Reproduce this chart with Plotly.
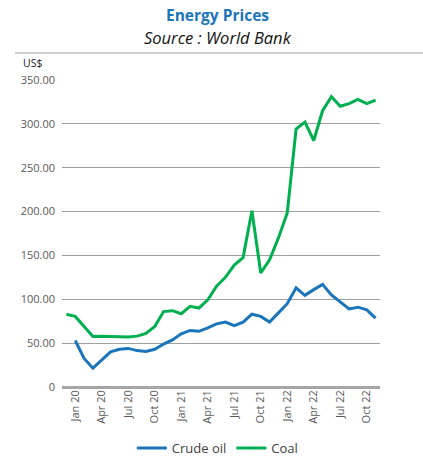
import plotly.graph_objects as go

# Monthly categories, Dec 2019 – Nov 2022
months = ["Dec 19",
          "Jan 20", "Feb 20", "Mar 20", "Apr 20", "May 20", "Jun 20",
          "Jul 20", "Aug 20", "Sep 20", "Oct 20", "Nov 20", "Dec 20",
          "Jan 21", "Feb 21", "Mar 21", "Apr 21", "May 21", "Jun 21",
          "Jul 21", "Aug 21", "Sep 21", "Oct 21", "Nov 21", "Dec 21",
          "Jan 22", "Feb 22", "Mar 22", "Apr 22", "May 22", "Jun 22",
          "Jul 22", "Aug 22", "Sep 22", "Oct 22", "Nov 22"]

# US$ prices (crude oil has no Dec 19 value)
crude_oil = [None,
             53.0, 32.5, 21.5, 31.0, 40.0, 43.0,
             44.0, 41.5, 40.5, 43.0, 49.0, 53.7,
             60.6, 64.5, 63.5, 67.5, 72.0, 74.0,
             70.0, 74.0, 83.0, 80.5, 74.0, 84.5,
             95.0, 113.0, 104.5, 111.0, 117.0, 105.0,
             97.0, 89.0, 91.0, 88.0, 78.5]

coal = [83.0,
        80.5, 69.0, 57.5, 58.0, 57.5, 57.0,
        57.0, 58.0, 61.0, 69.0, 86.0, 87.0,
        83.5, 92.0, 90.0, 99.5, 115.0, 125.0,
        139.0, 147.5, 201.0, 130.0, 145.0, 170.0,
        198.5, 294.0, 302.0, 281.0, 315.0, 331.0,
        320.0, 323.0, 328.0, 323.0, 327.0]

x_ticks = ["Jan 20", "Apr 20", "Jul 20", "Oct 20", "Jan 21", "Apr 21", "Jul 21",
           "Oct 21", "Jan 22", "Apr 22", "Jul 22", "Oct 22"]
y_ticks = [0, 50, 100, 150, 200, 250, 300, 350]
y_tick_text = ["0" if v == 0 else f"{v:.2f}" for v in y_ticks]

BLUE = "#1a75bb"
GREEN = "#00b050"
FONT = "Open Sans"

fig = go.Figure()
fig.add_trace(go.Scatter(x=months, y=crude_oil, name="Crude oil", mode="lines",
                         line=dict(color=BLUE, width=3)))
fig.add_trace(go.Scatter(x=months, y=coal, name="Coal", mode="lines",
                         line=dict(color=GREEN, width=3)))

fig.update_layout(
    width=423, height=460,
    margin=dict(l=62, r=43, t=80, b=73),
    paper_bgcolor="white", plot_bgcolor="white",
    font=dict(family=FONT, size=11, color="#595959"),
    showlegend=True,
    legend=dict(orientation="h", xref="container", yref="container",
                x=0.515, xanchor="center", y=0.026, yanchor="middle",
                font=dict(size=13, color="#404040"), itemwidth=30),
    xaxis=dict(type="category", categoryorder="array", categoryarray=months,
               range=[-0.5, len(months) - 0.5], automargin=False,
               tickmode="array", tickvals=x_ticks, ticktext=x_ticks,
               tickangle=-90, showgrid=False, showline=False, ticks="",
               tickfont=dict(size=11, color="#595959")),
    yaxis=dict(range=[0, 350], tickmode="array", tickvals=y_ticks, ticktext=y_tick_text,
               automargin=False,
               showgrid=True, gridcolor="#a0a0a0", gridwidth=1,
               zeroline=True, zerolinecolor="#a6a6a6", zerolinewidth=3,
               showline=False, ticks="", ticklabelstandoff=6,
               tickfont=dict(size=11, color="#595959")),
)

fig.add_annotation(text="<b>Energy Prices</b>", xref="paper", yref="paper",
                   x=0.49, y=1.212, xanchor="center", yanchor="middle", showarrow=False,
                   font=dict(family=FONT, size=15.5, color=BLUE))
fig.add_annotation(text="<i>Source : World Bank</i>", xref="paper", yref="paper",
                   x=0.49, y=1.140, xanchor="center", yanchor="middle", showarrow=False,
                   font=dict(family=FONT, size=16.5, color="#111111"))
fig.add_annotation(text="US$", xref="paper", yref="paper",
                   x=-0.128, y=1.054, xanchor="left", yanchor="middle", showarrow=False,
                   font=dict(family=FONT, size=10.5, color="#1a1a1a"))
fig.add_shape(type="line", xref="paper", yref="paper",
              x0=-0.148, x1=1.14, y0=1.088, y1=1.088,
              line=dict(color="#bfbfbf", width=1.5))

fig.write_html("out.html")
